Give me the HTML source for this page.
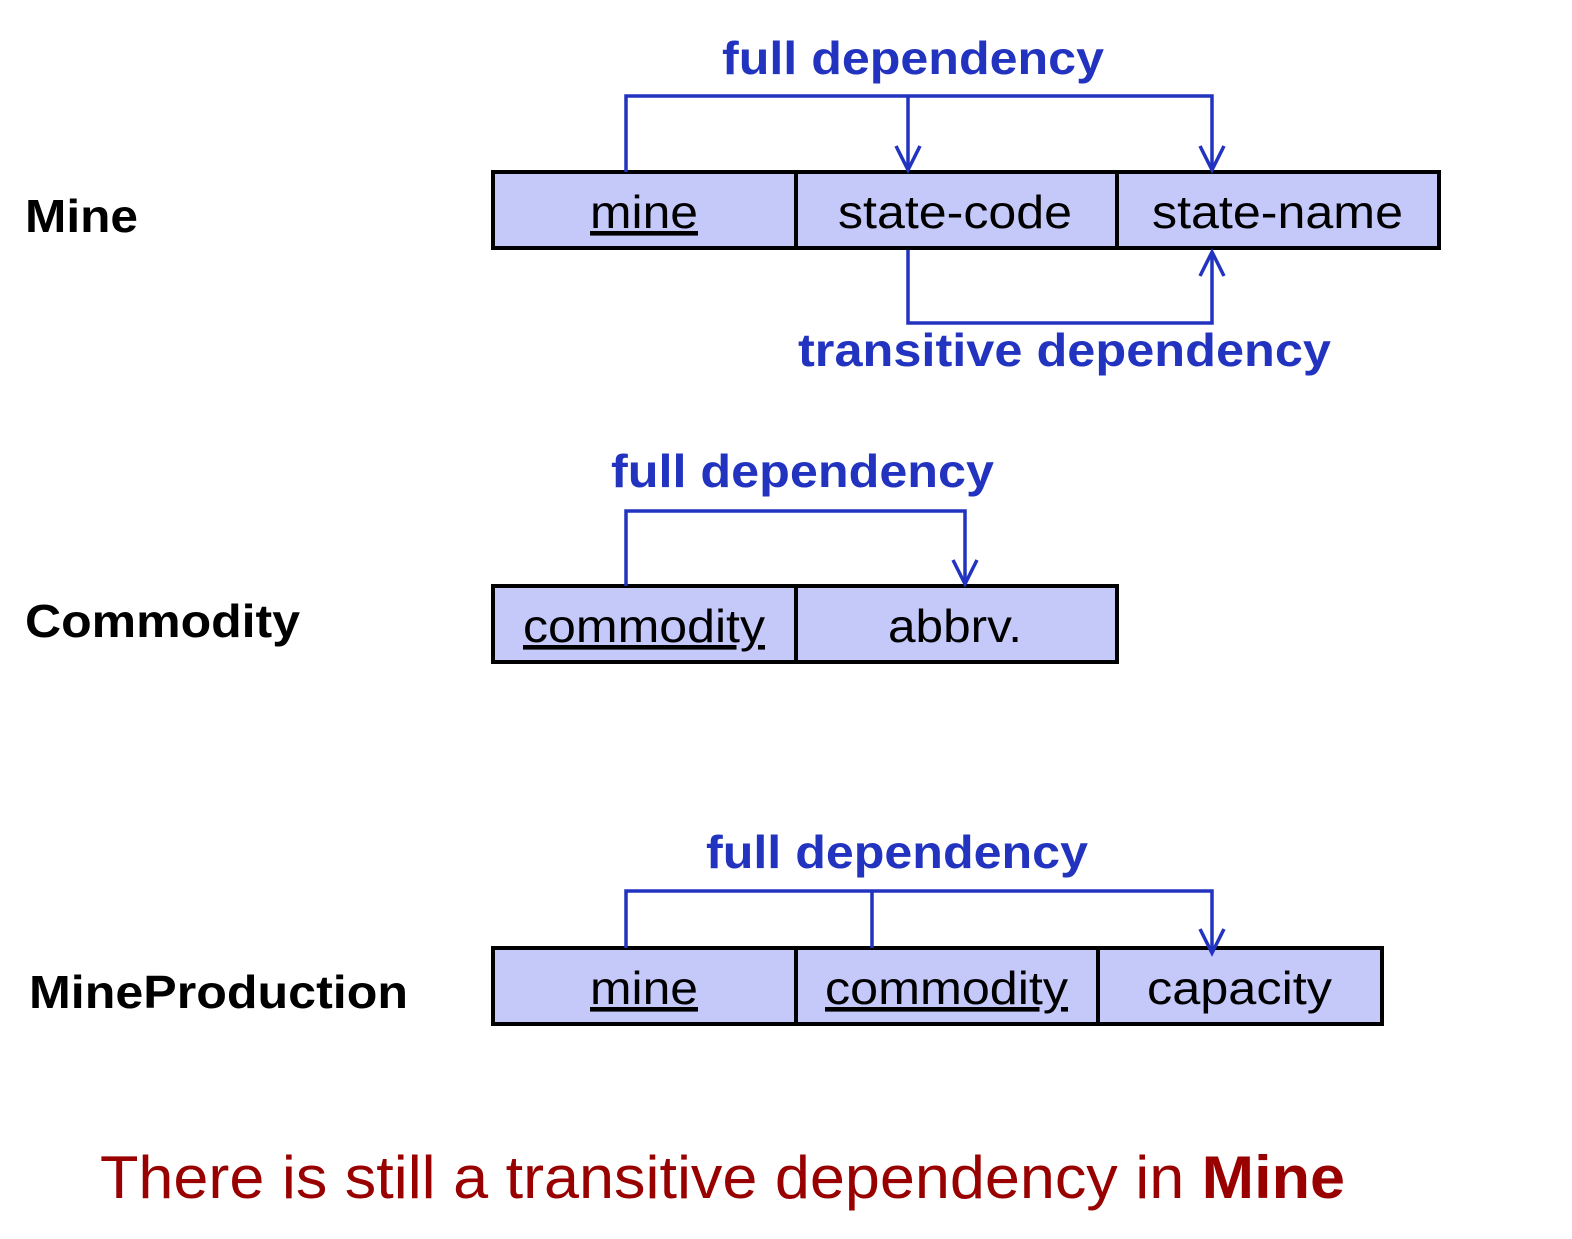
<!DOCTYPE html>
<html><head><meta charset="utf-8"><style>html,body{margin:0;padding:0;background:#fff}</style></head>
<body>
<svg width="1572" height="1234" viewBox="0 0 1572 1234" xmlns="http://www.w3.org/2000/svg" font-family="Liberation Sans, Arial, sans-serif">
<g fill="#c4c9f9" stroke="#000" stroke-width="4">
<rect x="493" y="172" width="946" height="76"/>
<line x1="796" y1="172" x2="796" y2="248"/><line x1="1117" y1="172" x2="1117" y2="248"/>
<rect x="493" y="586" width="624" height="76"/>
<line x1="796" y1="586" x2="796" y2="662"/>
<rect x="493" y="948" width="889" height="76"/>
<line x1="796" y1="948" x2="796" y2="1024"/><line x1="1098" y1="948" x2="1098" y2="1024"/>
</g>
<g fill="none" stroke="#2233c0" stroke-width="3.5">
<polyline points="626,172 626,96 1212,96 1212,170"/>
<line x1="908" y1="96" x2="908" y2="170"/>
<polyline points="896,146 908,170 920,146"/>
<polyline points="1200,146 1212,170 1224,146"/>
<polyline points="908,250 908,323 1212,323 1212,252"/>
<polyline points="1200,276 1212,252 1224,276"/>
<polyline points="626,586 626,511 965,511 965,584"/>
<polyline points="953,560 965,584 977,560"/>
<polyline points="626,948 626,891 1212,891 1212,953"/>
<line x1="872" y1="891" x2="872" y2="948"/>
<polyline points="1200,929 1212,953 1224,929"/>
</g>
<g fill="#2233c0" font-weight="bold" font-size="46">
<text x="722" y="74" textLength="382" lengthAdjust="spacingAndGlyphs">full dependency</text>
<text x="798" y="366" textLength="533" lengthAdjust="spacingAndGlyphs">transitive dependency</text>
<text x="611" y="487" textLength="383" lengthAdjust="spacingAndGlyphs">full dependency</text>
<text x="706" y="868" textLength="382" lengthAdjust="spacingAndGlyphs">full dependency</text>
</g>
<g fill="#000" font-weight="bold" font-size="46">
<text x="25" y="232" textLength="113" lengthAdjust="spacingAndGlyphs">Mine</text>
<text x="25" y="637" textLength="275" lengthAdjust="spacingAndGlyphs">Commodity</text>
<text x="29" y="1008" textLength="379" lengthAdjust="spacingAndGlyphs">MineProduction</text>
</g>
<g fill="#000" font-size="46">
<text x="590" y="228" textLength="108" lengthAdjust="spacingAndGlyphs" text-decoration="underline">mine</text>
<text x="838" y="228" textLength="234" lengthAdjust="spacingAndGlyphs">state-code</text>
<text x="1152" y="228" textLength="251" lengthAdjust="spacingAndGlyphs">state-name</text>
<text x="523" y="642" textLength="242" lengthAdjust="spacingAndGlyphs" text-decoration="underline">commodity</text>
<text x="888" y="642" textLength="134" lengthAdjust="spacingAndGlyphs">abbrv.</text>
<text x="590" y="1004" textLength="108" lengthAdjust="spacingAndGlyphs" text-decoration="underline">mine</text>
<text x="825" y="1004" textLength="243" lengthAdjust="spacingAndGlyphs" text-decoration="underline">commodity</text>
<text x="1147" y="1004" textLength="185" lengthAdjust="spacingAndGlyphs">capacity</text>
</g>
<text x="100" y="1198" fill="#990000" font-size="60" textLength="1245" lengthAdjust="spacingAndGlyphs">There is still a transitive dependency in <tspan font-weight="bold">Mine</tspan></text>
</svg>
</body></html>
